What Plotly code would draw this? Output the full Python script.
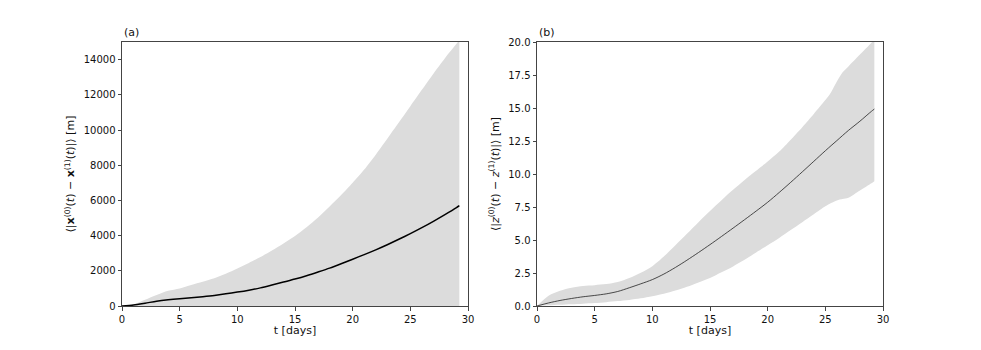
import plotly.graph_objects as go
from plotly.subplots import make_subplots

# panel (a): horizontal separation, metres
t_a = [0, 1, 2, 3, 4, 5, 6, 7, 8, 9, 10, 11, 12, 13, 14, 15, 16, 17, 18, 19,
       20, 21, 22, 23, 24, 25, 26, 27, 28, 29, 29.25]
mean_a = [0, 60, 160, 270, 350, 415, 470, 530, 600, 690, 790, 900, 1030, 1190,
          1360, 1530, 1720, 1930, 2150, 2400, 2660, 2920, 3190, 3480, 3790,
          4110, 4450, 4810, 5190, 5590, 5700]
upper_a = [0, 90, 350, 620, 860, 1000, 1200, 1380, 1580, 1830, 2130, 2450,
           2780, 3150, 3550, 3980, 4480, 5030, 5650, 6300, 7000, 7750, 8600,
           9500, 10420, 11350, 12280, 13200, 14080, 14900, 15100]

# panel (b): vertical separation, metres
t_b = [0, 1, 2, 3, 4, 5, 6, 7, 8, 9, 10, 11, 12, 13, 14, 15, 16, 17, 18, 19,
       20, 21, 22, 23, 24, 25, 25.5, 26, 26.5, 27, 28, 29, 29.25]
mean_b = [0, 0.23, 0.42, 0.57, 0.70, 0.80, 0.92, 1.10, 1.38, 1.68, 2.0, 2.42,
          2.92, 3.47, 4.05, 4.65, 5.27, 5.9, 6.54, 7.19, 7.86, 8.6, 9.37, 10.16,
          10.96, 11.76, 12.15, 12.53, 12.92, 13.3, 14.0, 14.75, 14.92]
upper_b = [0, 0.78, 1.15, 1.38, 1.52, 1.58, 1.66, 1.82, 2.12, 2.52, 3.02, 3.75,
           4.6, 5.47, 6.35, 7.2, 8.02, 8.8, 9.55, 10.25, 10.95, 11.7, 12.6, 13.55,
           14.55, 15.6, 16.2, 17.0, 17.7, 18.15, 19.05, 19.95, 20.2]
lower_b = [0, 0.05, 0.09, 0.13, 0.17, 0.22, 0.29, 0.37, 0.46, 0.58, 0.74, 0.93,
           1.17, 1.45, 1.78, 2.12, 2.55, 3.0, 3.5, 4.05, 4.6, 5.15, 5.75, 6.35,
           6.95, 7.55, 7.8, 8.0, 8.1, 8.2, 8.75, 9.3, 9.45]

x_ticks = [0, 5, 10, 15, 20, 25, 30]
ya_ticks = [0, 2000, 4000, 6000, 8000, 10000, 12000, 14000]
yb_ticks = [0, 2.5, 5, 7.5, 10, 12.5, 15, 17.5, 20]

band = "#dcdcdc"
font = dict(family="DejaVu Sans", size=10, color="#111")
title_font = dict(family="DejaVu Sans", size=11, color="#111")
smooth = dict(shape="spline", smoothing=0.8)

W, H = 981, 350
OFF = 8  # the page body adds an 8px margin, pull everything back by that

fig = make_subplots(rows=1, cols=2)

# (a) band from zero up to the upper bound
fig.add_trace(go.Scatter(x=t_a, y=upper_a, fill="tozeroy", fillcolor=band,
                         line=dict(width=0, **smooth), mode="lines",
                         hoverinfo="skip"), row=1, col=1)
fig.add_trace(go.Scatter(x=t_a, y=mean_a, mode="lines",
                         line=dict(color="black", width=1.5, **smooth)),
              row=1, col=1)

# (b) band between lower and upper
fig.add_trace(go.Scatter(x=t_b, y=lower_b, mode="lines",
                         line=dict(width=0, **smooth), hoverinfo="skip"),
              row=1, col=2)
fig.add_trace(go.Scatter(x=t_b, y=upper_b, fill="tonexty", fillcolor=band,
                         line=dict(width=0, **smooth), mode="lines",
                         hoverinfo="skip"), row=1, col=2)
fig.add_trace(go.Scatter(x=t_b, y=mean_b, mode="lines",
                         line=dict(color="#222", width=0.8, **smooth)),
              row=1, col=2)

axis_style = dict(showline=True, linecolor="#444", linewidth=1, mirror=True,
                  ticks="outside", ticklen=3.5, tickcolor="#444", showgrid=False,
                  zeroline=False, tickfont=font, automargin=False)

fig.update_xaxes(**axis_style, range=[0, 30], tickvals=x_ticks,
                 title=dict(text="t [days]", font=title_font, standoff=2))
fig.update_xaxes(domain=[(122 - OFF) / W, (468 - OFF) / W], row=1, col=1)
fig.update_xaxes(domain=[(537 - OFF) / W, (883 - OFF) / W], row=1, col=2)

fig.update_yaxes(**axis_style)
fig.update_yaxes(range=[0, 15000], tickvals=ya_ticks, tickformat="d",
                 row=1, col=1,
                 title=dict(text="⟨|<b>x</b><sup>(0)</sup>(<i>t</i>) − "
                                 "<b>x</b><sup>(1)</sup>(<i>t</i>)|⟩ [m]",
                            font=title_font, standoff=6))
fig.update_yaxes(range=[0, 20], tickvals=yb_ticks,
                 ticktext=["%.1f" % v for v in yb_ticks], row=1, col=2,
                 title=dict(text="⟨|<i>z</i><sup>(0)</sup>(<i>t</i>) − "
                                 "<i>z</i><sup>(1)</sup>(<i>t</i>)|⟩ [m]",
                            font=title_font, standoff=6))
y_top = (H - (42 - OFF)) / H
y_bot = (H - (306 - OFF)) / H
fig.update_yaxes(domain=[y_bot, y_top])

for label, x0 in [("(a)", (122 - OFF) / W), ("(b)", (537 - OFF) / W)]:
    fig.add_annotation(text=label, xref="paper", yref="paper", x=x0,
                       y=y_top, xanchor="left", yanchor="bottom",
                       showarrow=False, font=title_font, yshift=1)

fig.update_layout(width=W, height=H, showlegend=False,
                  margin=dict(l=0, r=0, t=0, b=0),
                  plot_bgcolor="white", paper_bgcolor="white")

fig.write_html("out.html")
